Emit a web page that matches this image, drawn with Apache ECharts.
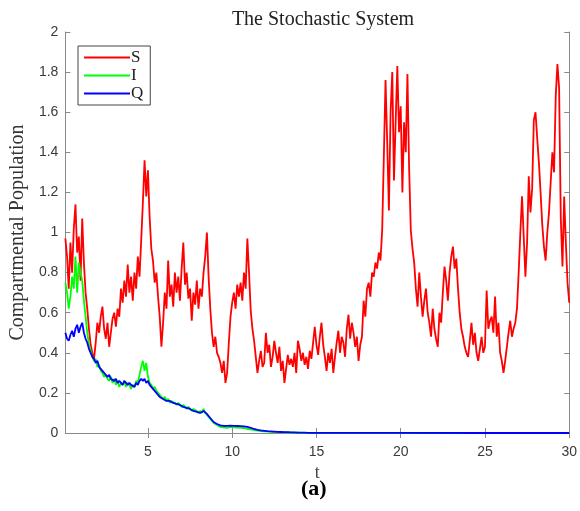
<!DOCTYPE html>
<html>
<head>
<meta charset="utf-8">
<script src="https://cdn.jsdelivr.net/npm/echarts@6/dist/echarts.min.js"></script>
<style>html,body{margin:0;padding:0;background:#fff;}#c{width:580px;height:511px;}</style>
</head>
<body>
<div id="c"></div>
<script>
// ---- data ----
const titleText = 'The Stochastic System';
const seriesNames = ['S', 'I', 'Q'];
const xTicks = [5, 10, 15, 20, 25, 30];
const tStart = 0.1, tStep = 0.1; // S sampled every 0.1 from t=0.1 to t=30

const S = [
  0.97, 0.88, 0.72, 0.95, 0.80, 1.02, 1.14, 0.90, 0.98, 0.76,
  1.07, 0.85, 0.70, 0.62, 0.52, 0.44, 0.40, 0.37, 0.45, 0.55,
  0.50, 0.58, 0.63, 0.52, 0.47, 0.55, 0.43, 0.50, 0.57, 0.60,
  0.53, 0.62, 0.58, 0.72, 0.65, 0.76, 0.68, 0.84, 0.70, 0.78,
  0.66, 0.80, 0.72, 0.88, 0.78, 0.96, 1.15, 1.36, 1.18, 1.31,
  1.08, 0.92, 0.86, 0.75, 0.80, 0.68, 0.58, 0.43, 0.55, 0.70,
  0.62, 0.86, 0.68, 0.74, 0.63, 0.80, 0.70, 0.78, 0.66, 0.82,
  0.95, 0.74, 0.80, 0.67, 0.72, 0.56, 0.70, 0.64, 0.76, 0.62,
  0.72, 0.68, 0.80, 0.88, 1.00, 0.78, 0.62, 0.50, 0.43, 0.48,
  0.40, 0.38, 0.35, 0.30, 0.36, 0.25, 0.30, 0.45, 0.58, 0.65,
  0.70, 0.62, 0.74, 0.68, 0.75, 0.66, 0.80, 0.72, 0.97, 0.80,
  0.61, 0.52, 0.46, 0.38, 0.30, 0.36, 0.41, 0.33, 0.35, 0.50,
  0.40, 0.44, 0.33, 0.38, 0.46, 0.40, 0.35, 0.43, 0.31, 0.36,
  0.25, 0.32, 0.39, 0.34, 0.37, 0.33, 0.40, 0.30, 0.46, 0.42,
  0.36, 0.40, 0.34, 0.38, 0.32, 0.41, 0.37, 0.45, 0.53, 0.44,
  0.39, 0.48, 0.55, 0.44, 0.38, 0.31, 0.40, 0.35, 0.42, 0.30,
  0.38, 0.45, 0.51, 0.40, 0.48, 0.45, 0.38, 0.52, 0.59, 0.47,
  0.55, 0.50, 0.43, 0.48, 0.36, 0.44, 0.48, 0.66, 0.58, 0.72,
  0.75, 0.68, 0.80, 0.78, 0.85, 0.82, 0.90, 0.86, 1.01, 1.38,
  1.76, 1.45, 1.11, 1.60, 1.80, 1.26, 1.55, 1.83, 1.50, 1.63,
  1.20, 1.55, 1.40, 1.79, 1.32, 1.01, 0.92, 0.85, 0.72, 0.63,
  0.80, 0.68, 0.58, 0.66, 0.72, 0.60, 0.55, 0.48, 0.62, 0.52,
  0.47, 0.43, 0.60, 0.55, 0.70, 0.83, 0.76, 0.66, 0.80, 0.88,
  0.93, 0.82, 0.87, 0.72, 0.60, 0.52, 0.48, 0.43, 0.40, 0.38,
  0.46, 0.55, 0.44, 0.50, 0.40, 0.36, 0.42, 0.48, 0.40, 0.43,
  0.71, 0.52, 0.56, 0.58, 0.50, 0.68, 0.48, 0.55, 0.40, 0.36,
  0.30, 0.36, 0.43, 0.50, 0.56, 0.48, 0.52, 0.55, 0.62, 0.80,
  1.00, 1.18, 0.98, 0.78, 0.95, 1.28, 1.10, 1.22, 1.56, 1.60,
  1.47, 1.35, 1.20, 1.04, 0.93, 0.86, 1.00, 1.10, 1.25, 1.40,
  1.30, 1.68, 1.84, 1.72, 1.07, 0.83, 1.18, 0.95, 0.75, 0.65
];

// I and Q sampled every 0.1 from t=0.1 to t=15, then a sparse tail
const I = [
  0.75, 0.70, 0.62, 0.68, 0.78, 0.72, 0.88, 0.70, 0.85, 0.80,
  0.76, 0.66, 0.58, 0.50, 0.44, 0.41, 0.38, 0.36, 0.37, 0.33,
  0.34, 0.31, 0.30, 0.28, 0.29, 0.27, 0.26, 0.28, 0.25, 0.27,
  0.24, 0.26, 0.23, 0.25, 0.24, 0.26, 0.23, 0.25, 0.24, 0.22,
  0.24, 0.23, 0.26, 0.25, 0.29, 0.33, 0.36, 0.31, 0.35, 0.28,
  0.25, 0.24, 0.22, 0.23, 0.21, 0.20, 0.19, 0.18, 0.17, 0.18,
  0.16, 0.17, 0.15, 0.16, 0.155, 0.15, 0.14, 0.15, 0.14, 0.13,
  0.14, 0.13, 0.12, 0.13, 0.12, 0.11, 0.12, 0.115, 0.11, 0.10,
  0.11, 0.10, 0.12, 0.10, 0.09, 0.08, 0.07, 0.06, 0.05, 0.045,
  0.04, 0.035, 0.03, 0.032, 0.028, 0.03, 0.025, 0.027, 0.03, 0.026,
  0.028, 0.025, 0.027, 0.024, 0.026, 0.023, 0.025, 0.022, 0.02, 0.021,
  0.018, 0.016, 0.014, 0.013, 0.012, 0.011, 0.01, 0.009, 0.008, 0.008,
  0.007, 0.007, 0.006, 0.006, 0.005, 0.005, 0.004, 0.004, 0.004, 0.003,
  0.003, 0.003, 0.003, 0.002, 0.002, 0.002, 0.002, 0.002, 0.002, 0.001,
  0.001, 0.001, 0.001, 0.001, 0.001, 0.001, 0.001, 0.001, 0.001, 0.001
];
const Q = [
  0.50, 0.47, 0.46, 0.49, 0.51, 0.48, 0.52, 0.54, 0.50, 0.53,
  0.55, 0.50, 0.47, 0.45, 0.42, 0.40, 0.38, 0.37, 0.35, 0.36,
  0.33, 0.32, 0.31, 0.30, 0.29, 0.28, 0.29, 0.27, 0.27, 0.26,
  0.27, 0.25, 0.26, 0.25, 0.24, 0.26, 0.25, 0.24, 0.25, 0.24,
  0.24, 0.23, 0.25, 0.24, 0.26, 0.27, 0.26, 0.27, 0.25, 0.26,
  0.24, 0.23, 0.22, 0.21, 0.20, 0.19, 0.18, 0.18, 0.17, 0.17,
  0.16, 0.165, 0.16, 0.155, 0.15, 0.15, 0.145, 0.14, 0.14, 0.135,
  0.13, 0.13, 0.125, 0.12, 0.12, 0.115, 0.11, 0.11, 0.105, 0.10,
  0.10, 0.105, 0.11, 0.105, 0.095, 0.085, 0.075, 0.065, 0.055, 0.05,
  0.045, 0.04, 0.038, 0.036, 0.035, 0.034, 0.036, 0.038, 0.037, 0.035,
  0.036, 0.034, 0.035, 0.033, 0.034, 0.032, 0.033, 0.031, 0.03, 0.029,
  0.026, 0.023, 0.02, 0.018, 0.016, 0.015, 0.013, 0.012, 0.011, 0.010,
  0.009, 0.009, 0.008, 0.007, 0.007, 0.006, 0.006, 0.005, 0.005, 0.005,
  0.004, 0.004, 0.004, 0.003, 0.003, 0.003, 0.003, 0.002, 0.002, 0.002,
  0.002, 0.002, 0.002, 0.001, 0.001, 0.001, 0.001, 0.001, 0.001, 0.001
];
const tailT = [20, 25, 30];
const tailI = [0.0003, 0.0001, 0.0];
const tailQ = [0.0003, 0.0001, 0.0];

// ---- build option ----
function pairs(vals, tailTs, tailVs) {
  const out = vals.map((v, i) => [+(tStart + i * tStep).toFixed(2), v]);
  if (tailTs) tailTs.forEach((t, i) => out.push([t, tailVs[i]]));
  return out;
}

const axisGray = '#8a8a8a';
const labelColor = '#3a3a3a';
const serif = '"Liberation Serif", "DejaVu Serif", serif';
const sans = '"Liberation Sans", Arial, sans-serif';
const yTicks = [0, 0.2, 0.4, 0.6, 0.8, 1, 1.2, 1.4, 1.6, 1.8, 2];

const chart = echarts.init(document.getElementById('c'), null, {renderer: 'canvas'});
chart.setOption({
  animation: false,
  backgroundColor: '#ffffff',
  title: {
    text: titleText,
    left: 318, top: 5, textAlign: 'center',
    textStyle: {fontFamily: serif, fontWeight: 'normal', fontSize: 20, color: '#222'}
  },
  legend: {
    data: seriesNames,
    orient: 'vertical',
    left: 78, top: 46,
    padding: [3, 7, 3, 6],
    itemGap: 1,
    itemWidth: 46, itemHeight: 2,
    icon: 'rect',
    backgroundColor: '#fff',
    borderColor: '#444', borderWidth: 1, borderRadius: 0,
    textStyle: {fontFamily: serif, fontSize: 17, color: '#222', padding: [0, 0, 0, -4], lineHeight: 17}
  },
  grid: {left: 62.5, right: 8.5, top: 32, bottom: 78, containLabel: false},
  xAxis: [{
    type: 'value', min: 0.1, max: 30, position: 'bottom',
    name: 't', nameLocation: 'middle', nameGap: 21,
    nameTextStyle: {fontFamily: serif, fontSize: 18, color: '#444'},
    axisLine: {show: true, lineStyle: {color: axisGray, width: 1}},
    axisTick: {show: true, inside: true, length: 5, customValues: xTicks, lineStyle: {color: axisGray}},
    axisLabel: {customValues: xTicks, fontFamily: sans, fontSize: 14, color: labelColor, margin: 12},
    splitLine: {show: false}
  }, {
    type: 'value', min: 0.1, max: 30, position: 'top',
    axisLine: {show: true, lineStyle: {color: axisGray, width: 1}},
    axisTick: {show: true, inside: true, length: 5, customValues: xTicks, lineStyle: {color: axisGray}},
    axisLabel: {show: false},
    splitLine: {show: false}
  }],
  yAxis: [{
    type: 'value', min: 0, max: 2, interval: 0.2, position: 'left',
    name: 'Compartmental Population', nameLocation: 'middle', nameGap: 37,
    nameTextStyle: {fontFamily: serif, fontSize: 20, color: '#333'},
    axisLine: {show: true, lineStyle: {color: axisGray, width: 1}},
    axisTick: {show: true, inside: true, length: 5, customValues: yTicks, lineStyle: {color: axisGray}},
    axisLabel: {fontFamily: sans, fontSize: 14, color: labelColor, margin: 7},
    splitLine: {show: false}
  }, {
    type: 'value', min: 0, max: 2, interval: 0.2, position: 'right',
    axisLine: {show: true, lineStyle: {color: axisGray, width: 1}},
    axisTick: {show: true, inside: true, length: 5, customValues: yTicks, lineStyle: {color: axisGray}},
    axisLabel: {show: false},
    splitLine: {show: false}
  }],
  graphic: [{
    type: 'text', left: 301, top: 478,
    style: {text: '(a)', font: 'bold 22px ' + serif, fill: '#000'}
  }],
  series: [
    {name: 'S', type: 'line', data: pairs(S), showSymbol: false, symbol: 'none',
     lineStyle: {color: '#ff0000', width: 1.8}, itemStyle: {color: '#ff0000'}},
    {name: 'I', type: 'line', data: pairs(I, tailT, tailI), showSymbol: false, symbol: 'none',
     lineStyle: {color: '#00ff00', width: 1.8}, itemStyle: {color: '#00ff00'}},
    {name: 'Q', type: 'line', data: pairs(Q, tailT, tailQ), showSymbol: false, symbol: 'none',
     lineStyle: {color: '#0000ff', width: 1.8}, itemStyle: {color: '#0000ff'}}
  ]
});
</script>
</body>
</html>
